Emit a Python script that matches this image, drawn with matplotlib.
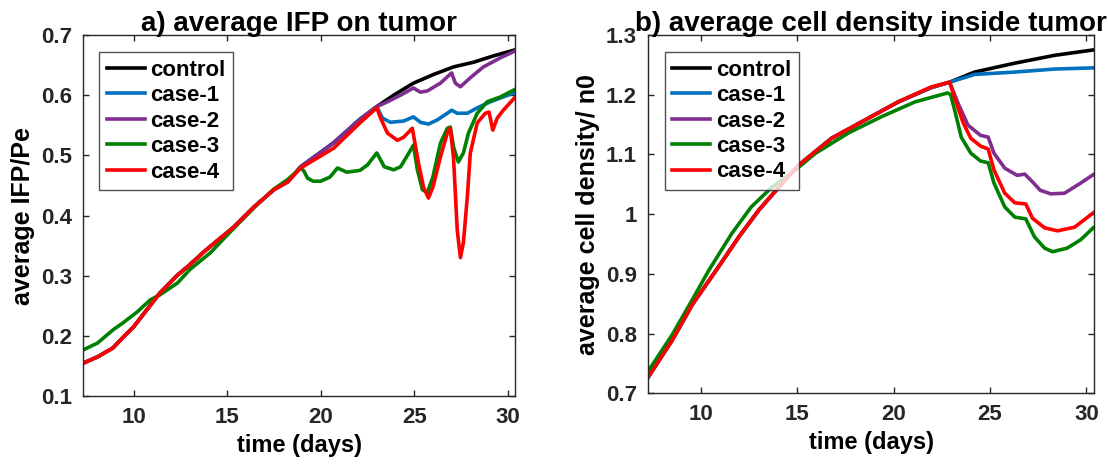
import matplotlib
matplotlib.use("Agg")
import matplotlib.pyplot as plt

# ---- panel a) average IFP on tumor ----
ifp_red_days = [7.33, 8.07, 8.9, 9.45, 10.0, 10.5, 10.9, 11.4, 12.35, 13.0, 13.7, 14.0,
                15.36, 16.43, 17.5, 18.24, 18.93, 20.7, 22.1, 23.0,
                23.2, 23.57, 24.1, 24.43, 24.9, 25.23, 25.5, 25.76, 26.0, 26.4, 26.77, 26.93,
                27.1, 27.3, 27.47, 27.63, 27.84, 28.0, 28.37, 28.8, 29.0, 29.2, 29.44, 29.76, 30.35]
ifp_red = [0.155, 0.165, 0.180, 0.198, 0.215, 0.235, 0.251, 0.271, 0.301, 0.318, 0.338, 0.346,
           0.381, 0.414, 0.443, 0.456, 0.479, 0.512, 0.554, 0.579,
           0.562, 0.537, 0.525, 0.530, 0.545, 0.487, 0.447, 0.429, 0.447, 0.497, 0.537, 0.545,
           0.497, 0.376, 0.330, 0.355, 0.431, 0.504, 0.554, 0.570, 0.572, 0.542, 0.562, 0.575, 0.595]

# shared part of control / case-1 / case-2 before treatment
ifp_base_days = [7.33, 8.07, 8.9, 9.45, 10.0, 10.5, 10.9, 11.4, 12.35, 13.0, 13.7, 14.0,
                 15.36, 16.43, 17.5, 18.24, 18.93, 20.7, 22.1, 23.0]
ifp_base = [0.155, 0.165, 0.180, 0.198, 0.215, 0.235, 0.251, 0.271, 0.301, 0.318, 0.338, 0.346,
            0.381, 0.414, 0.443, 0.456, 0.481, 0.521, 0.560, 0.581]

ifp_control_days = [23.9, 24.96, 26.0, 27.1, 28.2, 29.2, 30.35]
ifp_control = [0.600, 0.620, 0.634, 0.647, 0.655, 0.665, 0.675]

ifp_case1_days = [23.3, 23.73, 24.43, 24.96, 25.33, 25.76, 26.24, 26.77, 27.0, 27.3, 27.84,
                  28.37, 29.07, 30.35]
ifp_case1 = [0.562, 0.555, 0.557, 0.564, 0.555, 0.552, 0.559, 0.570, 0.575, 0.570, 0.570,
             0.579, 0.589, 0.604]

ifp_case2_days = [23.57, 24.27, 24.96, 25.33, 25.7, 26.4, 27.0, 27.2, 27.47, 28.0, 28.7, 29.6, 30.35]
ifp_case2 = [0.589, 0.600, 0.612, 0.605, 0.607, 0.620, 0.637, 0.620, 0.614, 0.629, 0.647,
             0.662, 0.673]

ifp_case3_days = [7.33, 8.07, 8.9, 9.45, 10.2, 10.9, 11.4, 12.35, 13.0, 14.1, 15.36, 16.43,
                  17.5, 18.24, 18.93, 19.1, 19.3, 19.6, 20.0, 20.5, 20.9, 21.4, 22.1, 22.5, 23.0,
                  23.4, 23.9, 24.27, 24.64, 24.96, 25.17, 25.44, 25.7, 26.0, 26.4, 26.77, 26.93,
                  27.1, 27.36, 27.63, 27.9, 28.37, 28.9, 29.6, 30.35]
ifp_case3 = [0.177, 0.188, 0.210, 0.222, 0.240, 0.260, 0.268, 0.288, 0.310, 0.338, 0.379, 0.413,
             0.444, 0.460, 0.479, 0.474, 0.462, 0.457, 0.457, 0.464, 0.479, 0.472, 0.475, 0.484,
             0.504, 0.481, 0.476, 0.481, 0.500, 0.517, 0.476, 0.443, 0.438, 0.464, 0.520, 0.545,
             0.547, 0.514, 0.489, 0.504, 0.537, 0.570, 0.589, 0.597, 0.609]

# ---- panel b) average cell density inside tumor ----
dens_red_days = [7.21, 8.5, 9.53, 10.78, 11.96, 13.0, 14.03, 15.06, 16.77, 18.53, 20.23,
                 21.94, 22.9, 23.2, 23.6, 24.0, 24.5, 24.9, 25.2, 25.76, 26.28, 26.85, 27.2,
                 27.83, 28.5, 29.38, 30.35]
dens_red = [0.725, 0.789, 0.848, 0.906, 0.962, 1.007, 1.045, 1.082, 1.127, 1.158, 1.188,
            1.213, 1.221, 1.191, 1.153, 1.127, 1.114, 1.109, 1.074, 1.035, 1.019, 1.017, 0.993,
            0.977, 0.972, 0.978, 1.002]

dens_base_days = [7.21, 8.5, 9.53, 10.78, 11.96, 13.0, 14.03, 15.06, 16.77, 18.53, 20.23,
                  21.94, 22.9]
dens_base = [0.725, 0.789, 0.848, 0.906, 0.962, 1.007, 1.045, 1.082, 1.127, 1.158, 1.188,
             1.212, 1.221]

dens_control_days = [24.2, 26.3, 28.35, 30.35]
dens_control = [1.238, 1.253, 1.266, 1.275]

dens_case1_days = [24.2, 26.3, 28.35, 30.35]
dens_case1 = [1.234, 1.238, 1.243, 1.245]

dens_case2_days = [23.33, 23.85, 24.5, 24.9, 25.2, 25.76, 26.4, 26.8, 27.2, 27.6, 28.14,
                   28.86, 29.7, 30.35]
dens_case2 = [1.186, 1.149, 1.132, 1.129, 1.102, 1.077, 1.065, 1.067, 1.054, 1.040, 1.034,
              1.035, 1.052, 1.066]

dens_case3_days = [7.21, 8.5, 9.53, 10.4, 11.6, 12.6, 13.67, 14.7, 15.94, 17.65, 19.35, 21.1,
                   22.8, 22.95, 23.2, 23.5, 24.0, 24.5, 24.9, 25.2, 25.76, 26.28, 26.85, 27.3,
                   27.83, 28.24, 29.0, 29.7, 30.35]
dens_case3 = [0.735, 0.798, 0.856, 0.906, 0.968, 1.012, 1.045, 1.069, 1.102, 1.136, 1.163, 1.188,
              1.203, 1.200, 1.169, 1.129, 1.102, 1.089, 1.086, 1.052, 1.012, 0.995, 0.992, 0.962,
              0.943, 0.937, 0.943, 0.957, 0.977]

labels = ["control", "case-1", "case-2", "case-3", "case-4"]
colors = ["black", "#0072BD", "#7E2F8E", "#008000", "#FF0000"]

plt.rcParams["font.family"] = ["Liberation Sans", "DejaVu Sans"]
plt.rcParams["font.weight"] = "bold"

fig = plt.figure(figsize=(11.08, 4.67), dpi=100)
ax1 = fig.add_axes([0.075, 0.152, 0.39, 0.773])
ax2 = fig.add_axes([0.585, 0.158, 0.4025, 0.767])

lw = 2.6
series_a = [
    (ifp_base_days + ifp_control_days, ifp_base + ifp_control),
    (ifp_base_days + ifp_case1_days, ifp_base + ifp_case1),
    (ifp_base_days + ifp_case2_days, ifp_base + ifp_case2),
    (ifp_case3_days, ifp_case3),
    (ifp_red_days, ifp_red),
]
series_b = [
    (dens_base_days + dens_control_days, dens_base + dens_control),
    (dens_base_days + dens_case1_days, dens_base + dens_case1),
    (dens_base_days + dens_case2_days, dens_base + dens_case2),
    (dens_case3_days, dens_case3),
    (dens_red_days, dens_red),
]

for (x, y), c, lab in zip(series_a, colors, labels):
    ax1.plot(x, y, color=c, lw=lw, label=lab)
for (x, y), c, lab in zip(series_b, colors, labels):
    ax2.plot(x, y, color=c, lw=lw, label=lab)

ax1.set_xlim(7.3, 30.4)
ax1.set_ylim(0.1, 0.7)
ax1.set_yticks([0.1, 0.2, 0.3, 0.4, 0.5, 0.6, 0.7])
ax1.set_title("a) average IFP on tumor", fontsize=20, fontweight="bold", pad=3)
ax1.set_ylabel("average IFP/Pe", fontsize=18, fontweight="bold", labelpad=4)

ax2.set_xlim(7.25, 30.4)
ax2.set_ylim(0.7, 1.3)
ax2.set_yticks([0.7, 0.8, 0.9, 1.0, 1.1, 1.2, 1.3])
ax2.set_yticklabels(["0.7", "0.8", "0.9", "1", "1.1", "1.2", "1.3"])
ax2.set_title("b) average cell density inside tumor", fontsize=20, fontweight="bold", pad=3)
ax2.set_ylabel("average cell density/ n0", fontsize=18, fontweight="bold", labelpad=4)

for ax in (ax1, ax2):
    ax.set_xticks([10, 15, 20, 25, 30])
    ax.set_xlabel("time (days)", fontsize=17, fontweight="bold", labelpad=4)
    ax.tick_params(direction="in", top=True, right=True, length=4, width=1,
                   colors="#262626", labelsize=16, labelcolor="#262626", pad=8)
    for sp in ax.spines.values():
        sp.set_color("#262626")
        sp.set_linewidth(1)
    leg = ax.legend(loc="upper left", bbox_to_anchor=(0.037, 0.953), borderaxespad=0,
                    frameon=True, fancybox=False, edgecolor="#262626",
                    handlelength=1.7, handletextpad=0.25, labelspacing=0.2,
                    borderpad=0.35, prop={"weight": "bold", "size": 16})
    leg.get_frame().set_linewidth(1)

plt.savefig("out.png", dpi=100)
plt.close()
